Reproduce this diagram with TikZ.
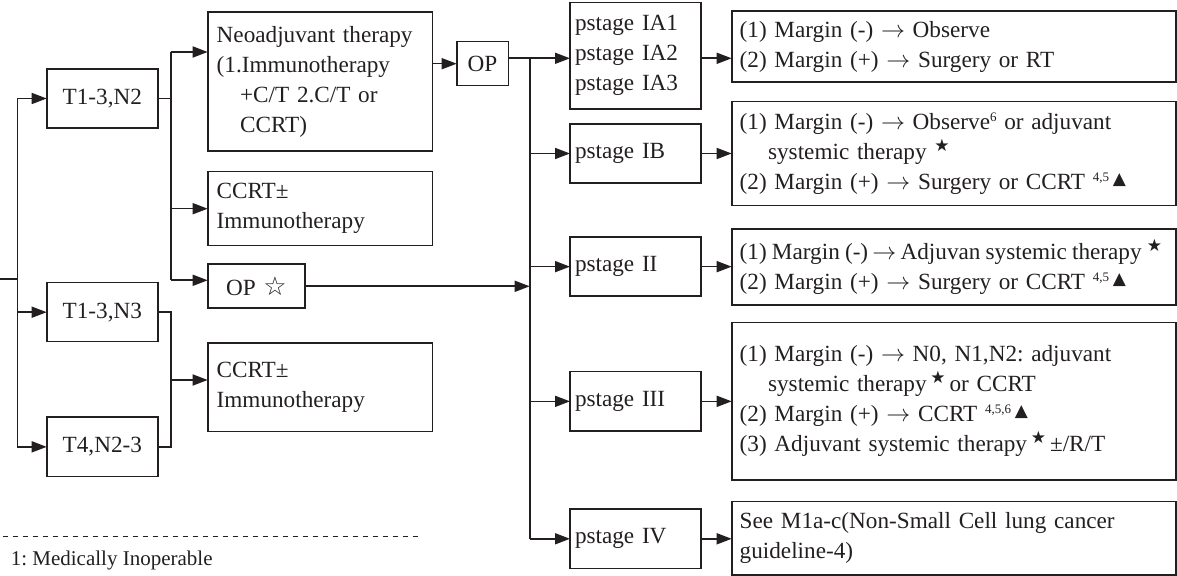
\documentclass[tikz,border=0pt]{standalone}
\usepackage{fontspec}
\setmainfont{Liberation Serif}
\newfontfamily\symf{DejaVu Sans}
\usetikzlibrary{arrows.meta}
\definecolor{ink}{RGB}{35,31,32}
\frenchspacing

\newcommand\sstar{\raisebox{0.75ex}{\symf\fontsize{8.5}{8.5}\selectfont ★}}
\newcommand\stri{\raisebox{0.5ex}{\symf\fontsize{8.5}{8.5}\selectfont ▲}}
\newcommand\supn[1]{\raisebox{0.8ex}{\fontsize{6.5}{6.5}\selectfont #1}}
\newcommand\ind[1]{\hspace*{#1}}

% name, x1, y1, x2, y2, pad(px), align, text
\newcommand\placebox[8]{%
 \pgfmathsetmacro\pbW{(#4-#2)*0.5}%
 \pgfmathsetmacro\pbH{(#5-#3)*0.5}%
 \pgfmathsetmacro\pbT{(#4-#2-2*#6)*0.5}%
 \pgfmathsetmacro\pbP{#6*0.5}%
 \node[box, minimum width=\pbW pt, minimum height=\pbH pt, text width=\pbT pt,
   inner xsep=\pbP pt, align=#7, anchor=north west] (#1) at (#2,#3) {#8};}

\begin{document}
\begin{tikzpicture}[x=0.5pt, y=-0.5pt, color=ink, line width=0.8pt,
  box/.style={draw, line width=0.8pt, outer sep=0pt, inner ysep=0pt,
    font=\fontsize{11.6}{15}\selectfont},
  arr/.style={-{Triangle[length=7.5pt,width=5.5pt]}},
  ]
\useasboundingbox (0,0) rectangle (1177,576);

% left column
\placebox{t1n2}{46.7}{69}{158}{128}{0}{center}{T1-3,N2}
\placebox{t1n3}{46.7}{282.7}{158}{341.7}{0}{center}{T1-3,N3}
\placebox{t4n23}{46.7}{417}{158}{476.7}{0}{center}{T4,N2-3}

% second column
\placebox{neo}{207.7}{12}{432.3}{151}{9}{left}{Neoadjuvant therapy\\(1.Immunotherapy\\\ind{11.7pt}+C/T 2.C/T or\\\ind{11.7pt}CCRT)}
\placebox{ccrta}{207.7}{171.7}{432.3}{245.7}{9}{left}{CCRT±\\Immunotherapy}
\placebox{opstar}{207.7}{264.3}{305}{308.3}{0}{center}{OP {\symf\fontsize{13}{13}\selectfont ☆}}
\placebox{ccrtb}{207.7}{343.3}{432.3}{431.7}{9}{left}{CCRT±\\Immunotherapy}
\placebox{op}{456.7}{41.7}{508.3}{85.7}{0}{center}{OP}

% pstage column
\placebox{pia}{570}{2.7}{700.7}{109}{5}{left}{pstage IA1\\pstage IA2\\pstage IA3}
\placebox{pib}{570}{124}{700.7}{183}{5}{left}{pstage IB}
\placebox{pii}{570}{237.3}{700.7}{296}{5}{left}{pstage II}
\placebox{piii}{570}{371.7}{700.7}{431}{5}{left}{pstage III}
\placebox{piv}{570}{509.3}{700.7}{568.3}{5}{left}{pstage IV}

% right column
\placebox{ra}{731.7}{11}{1176}{82.3}{8}{left}{(1) Margin (-) $\rightarrow$ Observe\\(2) Margin (+) $\rightarrow$ Surgery or RT}
\placebox{rb}{731.7}{101.7}{1176}{205.7}{8}{left}{(1) Margin (-) $\rightarrow$ Observe\supn{6} or adjuvant\\\ind{14.2pt}systemic therapy \sstar\\(2) Margin (+) $\rightarrow$ Surgery or CCRT \supn{4,5}\,\stri}
\placebox{rc}{731.7}{229}{1176}{305}{8}{left}{\mbox{\spaceskip=2.6pt (1) Margin (-)\hspace{-0.5pt} $\rightarrow$\hspace{-0.5pt} Adjuvan systemic therapy \sstar}\\(2) Margin (+) $\rightarrow$ Surgery or CCRT \supn{4,5}\,\stri}
\placebox{rd}{731.7}{322.7}{1176}{480}{8}{left}{(1) Margin (-) $\rightarrow$ N0, N1,N2: adjuvant\\\ind{14.2pt}systemic therapy\,\sstar\,or CCRT\\(2) Margin (+) $\rightarrow$ CCRT \supn{4,5,6}\,\stri\\(3) Adjuvant systemic therapy\,\sstar\,±/R/T}
\placebox{re}{731.7}{501.7}{1176}{575}{8}{left}{See M1a-c(Non-Small Cell lung cancer\\guideline-4)}

% junction coordinates
\coordinate (start) at (0,279);
\coordinate (ja) at (17.3,279);
\coordinate (jb) at (170.7,98.5);
\coordinate (jc) at (170.7,380);
\coordinate (jd) at (529.7,58.3);

% left trunk
\draw (start) -- (ja);
\draw (ja |- t1n2) -- (ja |- t4n23);
\draw[arr] (ja |- t1n2) -- (t1n2.west);
\draw[arr] (ja |- t1n3) -- (t1n3.west);
\draw[arr] (ja |- t4n23) -- (t4n23.west);

% T1-3,N2 branch
\draw (t1n2.east) -- (jb);
\draw ([yshift=14.75pt]neo.west -| jb) -- ([yshift=3pt]opstar.west -| jb);
\draw[arr] ([yshift=14.75pt]neo.west -| jb) -- ([yshift=14.75pt]neo.west);
\draw[arr] (ccrta.west -| jb) -- (ccrta.west);
\draw[arr] ([yshift=3pt]opstar.west -| jb) -- ([yshift=3pt]opstar.west);

% N3 / T4 branch
\draw (t1n3.east) -| (jc) |- (t4n23.east);
\draw[arr] (jc) -- (ccrtb.west |- jc);

% Neo -> OP
\draw[arr] (op.west -| neo.east) -- (op.west);

% OP -> pstage trunk
\draw (op.east |- jd) -- (jd);
\draw (jd) -- (jd |- piv);
\draw[arr] (jd) -- (pia.west |- jd);
\draw[arr] (jd |- pib) -- (pib.west);
\draw[arr] (jd |- pii) -- (pii.west);
\draw[arr] (jd |- piii) -- (piii.west);
\draw[arr] (jd |- piv) -- (piv.west);
\draw[arr] (opstar.east) -- (opstar.east -| jd);

% pstage -> results
\draw[arr] (pia.east |- jd) -- (ra.west |- jd);
\draw[arr] (pib.east) -- (pib.east -| rb.west);
\draw[arr] (pii.east) -- (pii.east -| rc.west);
\draw[arr] (piii.east) -- (piii.east -| rd.west);
\draw[arr] (piv.east) -- (piv.east -| re.west);

% footnote
\coordinate (dl1) at (2.7,536.7);
\coordinate (dl2) at (417.7,536.7);
\draw[line width=0.5pt, dash pattern=on 2.75pt off 2.25pt] (dl1) -- (dl2);
\node[anchor=base west, inner sep=0pt, font=\fontsize{10.5}{12}\selectfont] (fn) at (10,566) {1: Medically Inoperable};
\end{tikzpicture}
\end{document}
